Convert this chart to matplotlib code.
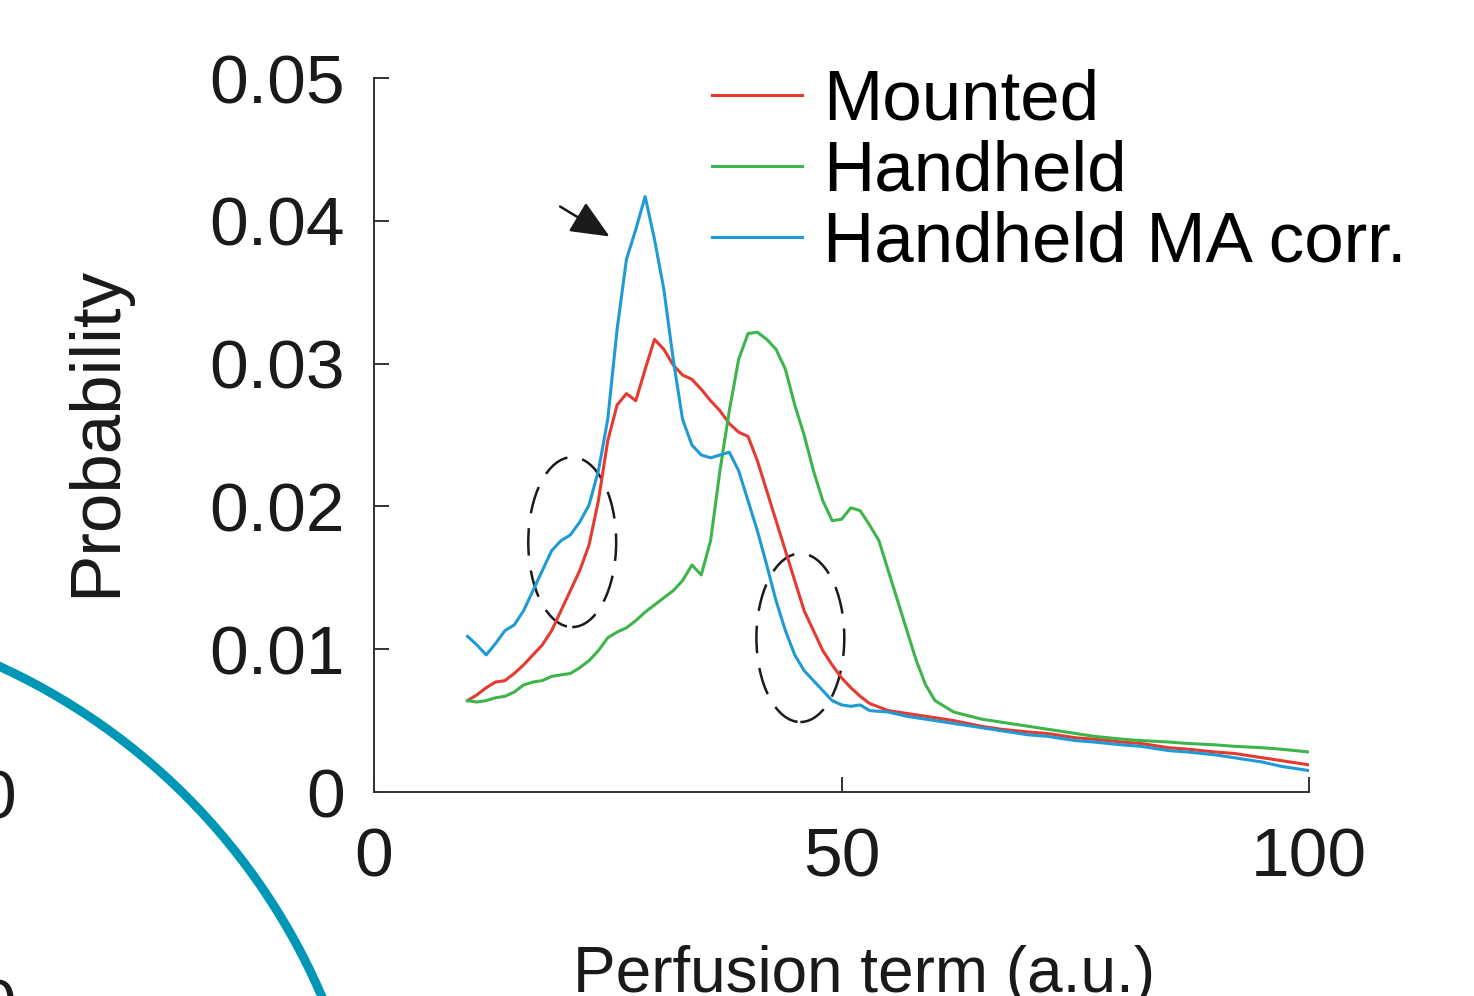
import matplotlib.pyplot as plt
from matplotlib import font_manager
from matplotlib.patches import Arc, Ellipse

# perfusion term (a.u.) sample positions for each curve
x_mounted = [10, 11, 12, 13, 14, 15, 16, 17, 18, 19, 20, 21, 22, 23, 24, 25, 26, 27, 28, 29,
             30, 31, 32, 33, 34, 35, 36, 37, 38, 39, 40, 41, 42, 43, 44, 45, 46, 47, 48, 49,
             50, 51, 52, 53, 55, 57, 60, 62, 65, 67, 70, 72, 75, 77, 80, 82, 85, 87, 90, 92,
             95, 97, 100]
y_mounted = [0.0064, 0.0068, 0.0073, 0.0077, 0.0078, 0.0083, 0.0089, 0.0096, 0.0103, 0.0113,
             0.0127, 0.0141, 0.0155, 0.0173, 0.0204, 0.0246, 0.0271, 0.0279, 0.0274, 0.0296,
             0.0317, 0.0310, 0.0299, 0.0292, 0.0289, 0.0282, 0.0274, 0.0267, 0.0258, 0.0252,
             0.0249, 0.0232, 0.0211, 0.0190, 0.0169, 0.0148, 0.0127, 0.0113, 0.0099, 0.0089,
             0.0080, 0.0073, 0.0067, 0.0062, 0.0057, 0.0055, 0.0052, 0.0050, 0.0046, 0.0044,
             0.0042, 0.0041, 0.0038, 0.0037, 0.0035, 0.0034, 0.0031, 0.0030, 0.0028, 0.0027,
             0.0024, 0.0022, 0.0019]

x_handheld = [10, 11, 12, 13, 14, 15, 16, 17, 18, 19, 20, 21, 22, 23, 24, 25, 26, 27, 28, 29,
              30, 31, 32, 33, 34, 35, 36, 37, 38, 39, 40, 41, 42, 43, 44, 45, 46, 47, 48, 49,
              50, 51, 52, 53, 54, 55, 56, 57, 58, 59, 60, 62, 65, 67, 70, 72, 75, 77, 80, 82,
              85, 87, 90, 92, 95, 97, 100]
y_handheld = [0.0064, 0.0063, 0.0064, 0.0066, 0.0067, 0.0070, 0.0075, 0.0077, 0.0078, 0.0081,
              0.0082, 0.0083, 0.0087, 0.0092, 0.0099, 0.0108, 0.0112, 0.0115, 0.0120, 0.0126,
              0.0131, 0.0136, 0.0141, 0.0148, 0.0159, 0.0152, 0.0176, 0.0225, 0.0267, 0.0303,
              0.0321, 0.0322, 0.0317, 0.0310, 0.0296, 0.0271, 0.0250, 0.0225, 0.0204, 0.0190,
              0.0191, 0.0199, 0.0197, 0.0187, 0.0176, 0.0155, 0.0134, 0.0113, 0.0092, 0.0075,
              0.0064, 0.0056, 0.0051, 0.0049, 0.0046, 0.0044, 0.0041, 0.0039, 0.0037, 0.0036,
              0.0035, 0.0034, 0.0033, 0.0032, 0.0031, 0.0030, 0.0028]

x_ma_corr = [10, 11, 12, 13, 14, 15, 16, 17, 18, 19, 20, 21, 22, 23, 24, 25, 26, 27, 28, 29,
             30, 31, 32, 33, 34, 35, 36, 37, 38, 39, 40, 41, 42, 43, 44, 45, 46, 47, 48, 49,
             50, 51, 52, 53, 55, 57, 60, 62, 65, 67, 70, 72, 75, 77, 80, 82, 85, 87, 90, 92,
             95, 97, 100]
y_ma_corr = [0.0109, 0.0103, 0.0096, 0.0104, 0.0113, 0.0117, 0.0127, 0.0141, 0.0155, 0.0169,
             0.0176, 0.0180, 0.0189, 0.0201, 0.0225, 0.0261, 0.0324, 0.0373, 0.0394, 0.0417,
             0.0387, 0.0352, 0.0303, 0.0261, 0.0243, 0.0236, 0.0234, 0.0236, 0.0238, 0.0225,
             0.0204, 0.0183, 0.0159, 0.0134, 0.0113, 0.0096, 0.0085, 0.0078, 0.0071, 0.0064,
             0.0061, 0.0060, 0.0061, 0.0057, 0.0056, 0.0053, 0.0050, 0.0048, 0.0045, 0.0043,
             0.0040, 0.0039, 0.0036, 0.0035, 0.0033, 0.0032, 0.0029, 0.0028, 0.0026, 0.0024,
             0.0021, 0.0018, 0.0015]

labels = ["Mounted", "Handheld", "Handheld MA corr."]
colors = ["#e53a30", "#3db54a", "#1e9ad6"]
x_ticks = [0, 50, 100]
y_ticks = [0, 0.01, 0.02, 0.03, 0.04, 0.05]

plt.rcParams["font.family"] = ["Liberation Sans", "DejaVu Sans"]
installed = {f.name for f in font_manager.fontManager.ttflist}
if "Liberation Sans Narrow" in installed:
    xlabel_font, xlabel_size = "Liberation Sans Narrow", 57
else:
    xlabel_font, xlabel_size = "Liberation Sans", 46

W, H = 1474, 996
fig = plt.figure(figsize=(W / 100, H / 100), dpi=100)
ax = fig.add_axes([374 / W, 1 - 792 / H, (1309 - 374) / W, (792 - 78) / H])

for xs, ys, lab, col in zip([x_mounted, x_handheld, x_ma_corr],
                            [y_mounted, y_handheld, y_ma_corr], labels, colors):
    ax.plot(xs, ys, color=col, lw=2.2, label=lab)

ax.set_xlim(0, 100)
ax.set_ylim(0, 0.05)
ax.set_xticks(x_ticks, [str(t) for t in x_ticks])
ax.set_yticks(y_ticks, ["0", "0.01", "0.02", "0.03", "0.04", "0.05"])
for s in ["top", "right"]:
    ax.spines[s].set_visible(False)
for s in ["left", "bottom"]:
    ax.spines[s].set_color("#333333")
    ax.spines[s].set_linewidth(1.4)
ax.tick_params(axis="both", direction="in", length=11, width=1.4, color="#333333",
               labelsize=50, labelcolor="#1a1a1a")
ax.tick_params(axis="y", pad=21)
ax.tick_params(axis="x", pad=25)

# dashed highlight ellipses
for cx, cy, w, h in [(21.2, 0.0175, 9.4, 0.0119), (45.6, 0.0108, 9.4, 0.0118)]:
    ax.add_patch(Ellipse((cx, cy), w, h, fill=False, ec="#1a1a1a", lw=1.8,
                         ls=(0, (11, 6))))

ax.annotate("", xy=(25.2, 0.0389), xytext=(19.9, 0.0410),
            arrowprops=dict(arrowstyle="-|>,head_length=0.8,head_width=0.35",
                            mutation_scale=30, color="#1a1a1a", lw=1.8,
                            shrinkA=0, shrinkB=0))

ax.legend(loc="upper left", bbox_to_anchor=(712 / W, 1 - 69 / H),
          bbox_transform=fig.transFigure, frameon=False, fontsize=51,
          handlelength=1.27, handletextpad=0.3, labelspacing=0.07,
          borderpad=0, borderaxespad=0)

fig.text(97 / W, 1 - 431 / H, "Probability", rotation=90, ha="center", va="center",
         fontsize=51, color="#1a1a1a")
fig.text(864 / W, 1 - 992 / H, "Perfusion term (a.u.)", ha="center", va="baseline",
         fontsize=xlabel_size, family=[xlabel_font, "DejaVu Sans"], color="#1a1a1a")

# pieces of the neighbouring panel cut off at the left edge
fig.add_artist(Arc((-268 / W, 1 - 1250 / H), 2 * 642 / W, 2 * 642 / H, theta1=0,
                   theta2=90, transform=fig.transFigure, color="#0096b6", lw=6.5))
fig.text(16 / W, 1 - 800 / H, "0", ha="right", va="center", fontsize=50, color="#1a1a1a")
fig.text(16 / W, 1 - 1010 / H, "0", ha="right", va="center", fontsize=50, color="#1a1a1a")

fig.savefig("out.png", dpi=100)
